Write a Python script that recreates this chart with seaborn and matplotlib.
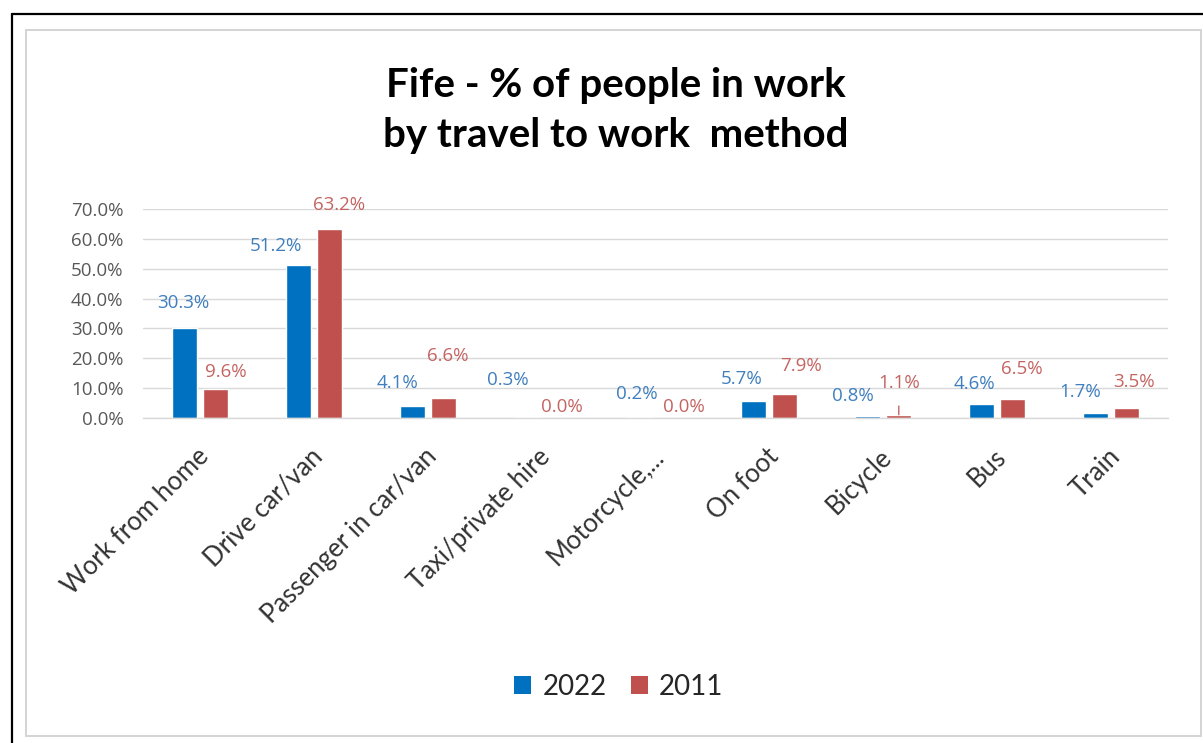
import matplotlib
matplotlib.use("Agg")
import matplotlib.pyplot as plt
from matplotlib.lines import Line2D
from matplotlib.patches import Rectangle, Patch
import matplotlib.transforms as mtransforms
import numpy as np
import pandas as pd
import seaborn as sns

# Share of people in work by travel-to-work method (%)
methods = ["Work from home", "Drive car/van", "Passenger in car/van",
           "Taxi/private hire", "Motorcycle,...", "On foot", "Bicycle",
           "Bus", "Train"]
years = ["2022", "2011"]
pct_2022 = [30.3, 51.2, 4.1, 0.3, 0.2, 5.7, 0.8, 4.6, 1.7]
pct_2011 = [9.6, 63.2, 6.6, 0.0, 0.0, 7.9, 1.1, 6.5, 3.5]
y_ticks = [0, 10, 20, 30, 40, 50, 60, 70]

df = pd.DataFrame({
    "method": methods * 2,
    "year": [years[0]] * len(methods) + [years[1]] * len(methods),
    "pct": pct_2022 + pct_2011,
})

BLUE = "#0070C0"
RED = "#C0504D"
LBL_BLUE = "#3F7FBF"
LBL_RED = "#C46462"
GRID = "#D9D9D9"

sns.set_theme(style="white")
plt.rcParams["font.family"] = ["Lato", "DejaVu Sans"]

W, H = 1203, 743
fig = plt.figure(figsize=(W / 100, H / 100), dpi=100)
fig.patch.set_facecolor("white")

# frame lines (pixel coordinates converted to figure fractions)
def fx(px):
    return px / W

def fy(py):
    return 1 - py / H

fig.add_artist(Line2D([fx(12), fx(W + 5)], [fy(13.5), fy(13.5)],
                      color="black", lw=1.6, transform=fig.transFigure))
fig.add_artist(Line2D([fx(12), fx(12)], [fy(13.5), fy(H + 5)],
                      color="black", lw=1.6, transform=fig.transFigure))
fig.add_artist(Rectangle((fx(26), fy(736)), fx(1201) - fx(26), fy(30) - fy(736),
                         fill=False, edgecolor="#D4D4D4", lw=1.4,
                         transform=fig.transFigure))

left, right, top, bottom = 143, 1168, 209, 418
ax = fig.add_axes([fx(left), fy(bottom), fx(right) - fx(left), fy(top) - fy(bottom)])

sns.barplot(data=df, x="method", y="pct", hue="year", hue_order=years,
            palette=[BLUE, RED], width=0.545, gap=0.19, saturation=1,
            legend=False, ax=ax, errorbar=None)

ax.set_ylim(0, 70)
ax.set_xlim(-0.5, len(methods) - 0.5)
ax.set_yticks(y_ticks)
ax.set_yticklabels([f"{t:.1f}%" for t in y_ticks], fontsize=13.5,
                   color="#595959", fontfamily=["Open Sans", "DejaVu Sans"])
ax.tick_params(axis="y", length=0, pad=14)
ax.yaxis.grid(True, color=GRID, lw=1)
ax.set_axisbelow(True)
for s in ["top", "right", "left"]:
    ax.spines[s].set_visible(False)
ax.spines["bottom"].set_color(GRID)
ax.spines["bottom"].set_linewidth(1)
ax.set_xlabel("")
ax.set_ylabel("")

ax.set_xticks(range(len(methods)))
ax.set_xticklabels(methods, rotation=45, ha="right", va="center",
                   rotation_mode="anchor", fontsize=18.5, color="#333333")
ax.tick_params(axis="x", length=0, pad=25)
shift = mtransforms.ScaledTranslation(5 / 100, 0, fig.dpi_scale_trans)
for lbl in ax.get_xticklabels():
    lbl.set_transform(lbl.get_transform() + shift)

# data label offsets in pixels from the top centre of each bar
offsets = {
    "2022": [(-1, 24.5), (-22, 19.5), (-15, 23), (-18, 37), (-3, 23),
             (-12, 21.5), (-15, 20), (-7, 20), (-15, 20.5)],
    "2011": [(10, 17.6), (10, 24), (5, 42), (5, 11), (13, 11.5),
             (16, 28), (0, 32), (9, 30), (7, 26)],
}
leader = {("2011", 6)}
label_colors = {"2022": LBL_BLUE, "2011": LBL_RED}

for year, container in zip(years, ax.containers):
    for i, bar in enumerate(container):
        v = bar.get_height()
        xc = bar.get_x() + bar.get_width() / 2
        dx, dy = offsets[year][i]
        kw = {}
        if (year, i) in leader:
            kw["arrowprops"] = dict(arrowstyle="-", color=LBL_RED, lw=1,
                                    shrinkA=8, shrinkB=0)
        ax.annotate(f"{v:.1f}%", xy=(xc, v), xytext=(dx, dy),
                    textcoords="offset pixels", ha="center", va="center",
                    fontsize=13.5, color=label_colors[year],
                    fontfamily=["Open Sans", "DejaVu Sans"],
                    annotation_clip=False, **kw)

fig.text(fx(616), fy(97), "Fife - % of people in work", ha="center",
         va="baseline", fontsize=29, fontweight="bold", color="black")
fig.text(fx(616), fy(147), "by travel to work  method", ha="center",
         va="baseline", fontsize=29, fontweight="bold", color="black")

handles = [Patch(facecolor=BLUE, edgecolor="none"),
           Patch(facecolor=RED, edgecolor="none")]
fig.legend(handles, years, loc="center", bbox_to_anchor=(fx(619), fy(687)),
           ncol=2, frameon=False, fontsize=20, handlelength=0.6,
           handleheight=0.6, handletextpad=0.4, columnspacing=0.9)

fig.savefig("out.png", dpi=100)
